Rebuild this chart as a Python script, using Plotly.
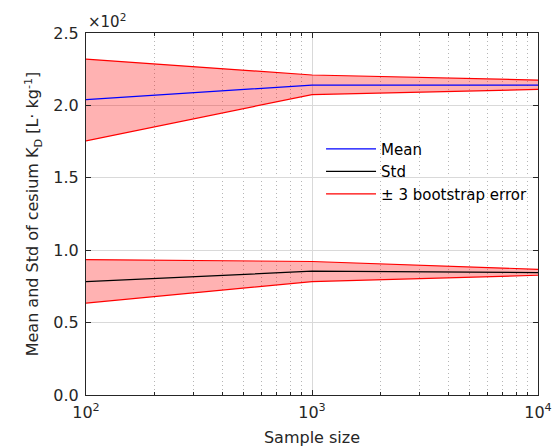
import plotly.graph_objects as go

# Data (values in units of 10^2 L/kg)
sample_size = [100, 1000, 10000]
mean_kd = [2.04, 2.14, 2.14]
mean_upper = [2.32, 2.21, 2.175]
mean_lower = [1.755, 2.075, 2.11]
std_kd = [0.783, 0.855, 0.845]
std_upper = [0.935, 0.922, 0.868]
std_lower = [0.635, 0.783, 0.827]
y_ticks = [0.0, 0.5, 1.0, 1.5, 2.0, 2.5]
x_ticks = [100, 1000, 10000]
x_ticktext = ["10<sup>2</sup>", "10<sup>3</sup>", "10<sup>4</sup>"]
x_minor = [200, 300, 400, 500, 600, 700, 800, 900,
           2000, 3000, 4000, 5000, 6000, 7000, 8000, 9000]

FILL = "rgba(255,0,0,0.3)"
RED = "#ff0000"
font = "DejaVu Sans"

fig = go.Figure()

def band(upper, lower):
    fig.add_trace(go.Scatter(x=sample_size, y=upper, mode="lines",
                             line=dict(color=RED, width=1.2), showlegend=False,
                             hoverinfo="skip"))
    fig.add_trace(go.Scatter(x=sample_size, y=lower, mode="lines",
                             line=dict(color=RED, width=1.2), fill="tonexty",
                             fillcolor=FILL, showlegend=False, hoverinfo="skip"))

band(mean_upper, mean_lower)
band(std_upper, std_lower)

fig.add_trace(go.Scatter(x=sample_size, y=mean_kd, mode="lines",
                         line=dict(color="#0000ff", width=1.2), name="Mean"))
fig.add_trace(go.Scatter(x=sample_size, y=std_kd, mode="lines",
                         line=dict(color="#000000", width=1.2), name="Std"))
fig.add_trace(go.Scatter(x=[None], y=[None], mode="lines",
                         line=dict(color=RED, width=1.2),
                         name="± 3 bootstrap error"))

axis_color = "#262626"
fig.update_layout(
    width=557, height=447,
    margin=dict(l=86, r=19, t=33, b=52),
    paper_bgcolor="white", plot_bgcolor="white",
    font=dict(family=font, size=14, color=axis_color),
    legend=dict(x=0.52, y=0.725, xanchor="left", yanchor="top",
                traceorder="normal", itemwidth=50,
                bgcolor="rgba(255,255,255,0)", borderwidth=0,
                font=dict(size=15, color="#000000"), tracegroupgap=0),
    xaxis=dict(type="log", range=[2, 4], tickvals=x_ticks, ticktext=x_ticktext,
               automargin=False, ticklabelstandoff=3,
               showgrid=True, gridcolor="#d9d9d9", gridwidth=1,
               ticks="inside", ticklen=5, tickcolor=axis_color,
               showline=True, linecolor=axis_color, linewidth=1, mirror="ticks",
               tickfont=dict(size=16),
               title=dict(text="Sample size", font=dict(size=16), standoff=12),
               minor=dict(tickvals=x_minor, showgrid=True, griddash="1px,3px",
                          gridcolor="#b5b5b5", gridwidth=1, ticks="inside",
                          ticklen=3, tickcolor=axis_color),
               zeroline=False),
    yaxis=dict(range=[0, 2.5], tickvals=y_ticks, tickformat=".1f",
               automargin=False, ticklabelstandoff=3,
               showgrid=True, gridcolor="#d9d9d9", gridwidth=1,
               ticks="inside", ticklen=5, tickcolor=axis_color,
               showline=True, linecolor=axis_color, linewidth=1, mirror="ticks",
               tickfont=dict(size=16),
               title=dict(text="Mean and Std of cesium K<sub>D</sub> [L· kg<sup>-1</sup>]",
                          font=dict(size=16), standoff=10),
               zeroline=False),
    annotations=[dict(text="×10<sup>2</sup>", xref="paper", yref="paper",
                      x=0.0, y=1.0, xanchor="left", yanchor="bottom",
                      showarrow=False, font=dict(size=15, color=axis_color))],
)

fig.write_html("out.html")
